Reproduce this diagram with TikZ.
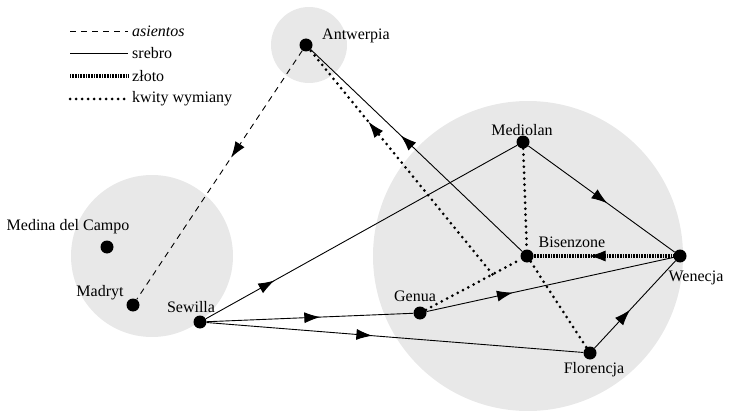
\documentclass[tikz,border=0pt]{standalone}
\usepackage{fontspec}
\setmainfont{Liberation Serif}
\usepackage{tikz}
\usetikzlibrary{arrows.meta}
\usetikzlibrary{decorations.markings}
\tikzset{>={Latex[width=11pt,length=16pt]}}
\tikzset{
  miasto/.style={circle, fill=black, inner sep=0pt, minimum size=13pt},
  napis/.style={font=\fontsize{16}{19}\selectfont, inner sep=0pt},
  strefa/.style={fill=black!9},
  srebro/.style={line width=0.9pt},
  asientos/.style={line width=0.9pt, dash pattern=on 6pt off 5pt},
  zloto/.style={line width=4.5pt, dash pattern=on 0.8pt off 0.8pt},
  kwity/.style={line width=3pt, line cap=round, dash pattern=on 0pt off 6pt},
  midarrow/.style={postaction={decorate, decoration={markings,
      mark=at position #1 with {\arrow[solid, line width=0.9pt]{Latex[width=11pt,length=16pt]}}}}},
}

\begin{document}
\begin{tikzpicture}[x=1pt, y=-1pt]
\useasboundingbox (0,0) rectangle (729,412);

% strefy
\fill[strefa] (309,45) circle[radius=38pt];
\fill[strefa] (152,256) circle[radius=81pt];
\fill[strefa] (528,256) circle[radius=155pt];

% legenda
\coordinate (leg1a) at (70,31);  \coordinate (leg1b) at (128,31);
\coordinate (leg2a) at (70,53);  \coordinate (leg2b) at (128,53);
\coordinate (leg3a) at (70,76);  \coordinate (leg3b) at (128,76);
\coordinate (leg4a) at (70,99);  \coordinate (leg4b) at (128,99);
\draw[asientos] (leg1a) -- (leg1b);
\draw[srebro] (leg2a) -- (leg2b);
\draw[zloto] (leg3a) -- (leg3b);
\draw[kwity] (leg4a) -- (leg4b);
\node[napis, anchor=west] (leg1) at (132,31) {\textit{asientos}};
\node[napis, anchor=west] (leg2) at (132,53) {srebro};
\node[napis, anchor=west] (leg3) at (132,76) {złoto};
\node[napis, anchor=west] (leg4) at (132,99) {kwity wymiany};

% miasta
\node[miasto] (antwerpia) at (306,45) {};
\node[miasto] (medina) at (107,247) {};
\node[miasto] (madryt) at (133,305) {};
\node[miasto] (sewilla) at (200,322) {};
\node[miasto] (mediolan) at (523,142) {};
\node[miasto] (bisenzone) at (527,256) {};
\node[miasto] (wenecja) at (680,256) {};
\node[miasto] (genua) at (420,313) {};
\node[miasto] (florencja) at (590,353) {};

\node[napis] (antwerpia-n) at (356,36) {Antwerpia};
\node[napis] (medina-n) at (68,227) {Medina del Campo};
\node[napis] (madryt-n) at (100,293) {Madryt};
\node[napis] (sewilla-n) at (191,307) {Sewilla};
\node[napis] (mediolan-n) at (522,130) {Mediolan};
\node[napis] (bisenzone-n) at (572,242) {Bisenzone};
\node[napis] (wenecja-n) at (696,278) {Wenecja};
\node[napis] (genua-n) at (415,296) {Genua};
\node[napis] (florencja-n) at (594,370) {Florencja};

% przeplywy
\draw[asientos, midarrow=0.43] (antwerpia) -- (madryt);

\draw[srebro, midarrow=0.575] (bisenzone) -- (antwerpia);
\draw[srebro, midarrow=0.22] (sewilla) -- (mediolan);
\draw[srebro, midarrow=0.55] (sewilla) -- (genua);
\draw[srebro, midarrow=0.44] (sewilla) -- (florencja);
\draw[srebro, midarrow=0.35] (genua) -- (wenecja);
\draw[srebro, midarrow=0.44] (florencja) -- (wenecja);
\draw[srebro, midarrow=0.54] (mediolan) -- (wenecja);

\draw[zloto, midarrow=0.6] (wenecja) -- (bisenzone);

\path (genua) -- (bisenzone) coordinate[pos=0.7] (rozg);
\draw[kwity] (mediolan) -- (bisenzone);
\draw[kwity] (genua) -- (bisenzone);
\draw[kwity] (bisenzone) -- (florencja);
\draw[kwity, midarrow=0.68] (rozg) -- (antwerpia);

\end{tikzpicture}
\end{document}
